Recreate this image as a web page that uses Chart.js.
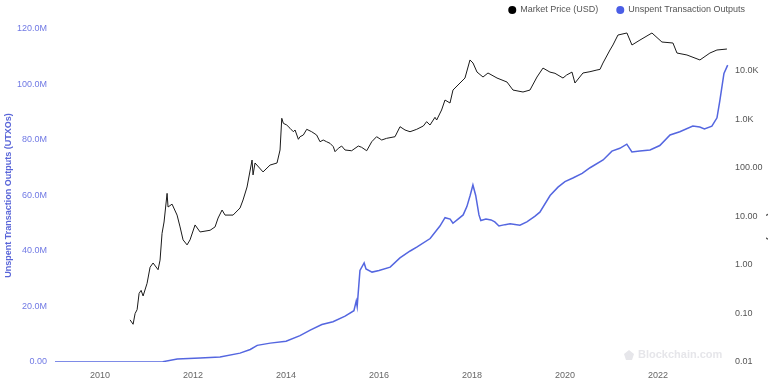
<!DOCTYPE html>
<html>
<head>
<meta charset="utf-8">
<script src="https://cdn.jsdelivr.net/npm/chart.js@4.4.0/dist/chart.umd.min.js"></script>
<style>
  html, body { margin: 0; padding: 0; background: #fff; overflow: hidden; }
  #wrap { width: 768px; height: 383px; }
</style>
</head>
<body>
<div id="wrap"><canvas id="utxoChart" width="768" height="383"></canvas></div>
<script>
// Unspent Transaction Outputs (millions), by decimal year
var utxoYears = [2009.03, 2011.35, 2011.66, 2012.15, 2012.58, 2013.01, 2013.23, 2013.38, 2013.66, 2014.0,
    2014.3, 2014.52, 2014.77, 2015.01, 2015.27, 2015.46, 2015.51, 2015.53, 2015.59, 2015.68,
    2015.72, 2015.85, 2016.0, 2016.24, 2016.45, 2016.67, 2016.82, 2017.1, 2017.31, 2017.42,
    2017.53, 2017.59, 2017.7, 2017.81, 2017.89, 2017.96, 2018.02, 2018.08, 2018.15, 2018.19,
    2018.3, 2018.41, 2018.49, 2018.58, 2018.71, 2018.82, 2019.03, 2019.18, 2019.35, 2019.46,
    2019.68, 2019.85, 2020.0, 2020.17, 2020.37, 2020.54, 2020.82, 2021.01, 2021.18, 2021.33,
    2021.44, 2021.61, 2021.83, 2022.04, 2022.26, 2022.47, 2022.75, 2022.9, 2023.0, 2023.16,
    2023.27, 2023.33, 2023.42, 2023.5];
var utxoValues = [0, 0.1, 1.1, 1.4, 1.8, 3.2, 4.5, 6.0, 6.8, 7.5,
    9.5, 11.5, 13.5, 14.5, 16.5, 18.5, 22, 20, 33, 35.7,
    33.5, 32.4, 33, 34.2, 37.5, 40, 41.5, 44.5, 49, 52,
    51.5, 50, 51.5, 53, 56, 60, 63.8, 60, 53, 51,
    51.5, 51.2, 50.5, 49, 49.5, 49.8, 49.3, 50.5, 52.5, 54,
    60, 63, 65, 66.3, 68, 70, 72.8, 76, 77, 78.5,
    75.7, 76, 76.4, 78, 81.8, 83, 85, 84.7, 84, 85,
    88, 94, 104, 107];

// Market Price (USD), by decimal year
var priceYears = [2010.645, 2010.71, 2010.753, 2010.796, 2010.839, 2010.882, 2010.925, 2011.011, 2011.075, 2011.14,
    2011.247, 2011.29, 2011.333, 2011.376, 2011.441, 2011.462, 2011.548, 2011.656, 2011.72, 2011.785,
    2011.871, 2011.935, 2012.043, 2012.151, 2012.366, 2012.473, 2012.538, 2012.624, 2012.688, 2012.86,
    2013.011, 2013.075, 2013.161, 2013.269, 2013.29, 2013.333, 2013.505, 2013.656, 2013.806, 2013.871,
    2013.908, 2013.942, 2014.015, 2014.086, 2014.157, 2014.194, 2014.265, 2014.301, 2014.372, 2014.445,
    2014.551, 2014.658, 2014.731, 2014.8, 2014.873, 2014.946, 2015.017, 2015.054, 2015.125, 2015.196,
    2015.269, 2015.411, 2015.555, 2015.626, 2015.735, 2015.843, 2015.948, 2016.058, 2016.163, 2016.344,
    2016.452, 2016.559, 2016.667, 2016.811, 2016.953, 2017.024, 2017.097, 2017.204, 2017.24, 2017.346,
    2017.419, 2017.527, 2017.591, 2017.742, 2017.849, 2017.957, 2018.022, 2018.108, 2018.237, 2018.344,
    2018.538, 2018.753, 2018.882, 2019.097, 2019.247, 2019.398, 2019.527, 2019.677, 2019.785, 2019.957,
    2020.036, 2020.151, 2020.215, 2020.387, 2020.538, 2020.688, 2020.753, 2020.817, 2020.968, 2021.032,
    2021.14, 2021.333, 2021.441, 2021.613, 2021.871, 2022.086, 2022.323, 2022.409, 2022.624, 2022.903,
    2023.118, 2023.269, 2023.484];
var priceValues = [0.074, 0.06, 0.1, 0.12, 0.26, 0.3, 0.23, 0.42, 0.9, 1.1,
    0.8, 1.26, 4.5, 7.7, 30, 15.7, 18, 10.7, 6.1, 3.3,
    2.6, 3.3, 6.7, 4.8, 5.2, 6.1, 9.3, 13.6, 10.7, 10.7,
    15, 21.9, 40.6, 146, 72, 127, 83, 115, 127, 235,
    1060, 835, 770, 659, 560, 608, 391, 442, 479, 628,
    560, 479, 348, 378, 348, 323, 275, 217, 255, 284,
    235, 227, 284, 267, 227, 348, 442, 378, 409, 442,
    711, 608, 560, 628, 735, 902, 770, 1110, 977, 1570,
    2520, 2190, 4050, 5660, 7170, 16900, 14600, 9520, 7520, 9100,
    7170, 5930, 4050, 3690, 4050, 7520, 11500, 9500, 8970, 7170,
    8270, 9500, 5660, 9100, 9680, 10500, 10800, 14600, 27100, 34400,
    55200, 60800, 34400, 43500, 60800, 39600, 37800, 23500, 21400, 16900,
    23500, 27100, 28400];

var yearTicks = [2010, 2012, 2014, 2016, 2018, 2020, 2022];
var utxoTicks = [0, 20, 40, 60, 80, 100, 120];
var priceTicks = [0.01, 0.1, 1, 10, 100, 1000, 10000];

var FONT = '"Liberation Sans", Arial, sans-serif';

function toPoints(xs, ys) {
    var pts = [];
    for (var i = 0; i < xs.length; i++) pts.push({ x: xs[i], y: ys[i] });
    return pts;
}

function priceLabel(v) {
    if (v >= 1000) return (v / 1000).toFixed(1) + 'K';
    return v.toFixed(2);
}

// leyenda arriba a la derecha + marca de agua
var extras = {
    id: 'extras',
    beforeDatasetsDraw: function (chart) {
        var ctx = chart.ctx;
        ctx.save();
        // marca de agua
        ctx.fillStyle = '#e6e6ea';
        var cx = 629, cy = 355;
        ctx.beginPath();
        ctx.moveTo(cx, cy - 5);
        ctx.lineTo(cx + 5, cy - 1);
        ctx.lineTo(cx + 3, cy + 5);
        ctx.lineTo(cx - 3, cy + 5);
        ctx.lineTo(cx - 5, cy - 1);
        ctx.closePath();
        ctx.fill();
        ctx.font = 'bold 11px ' + FONT;
        ctx.textBaseline = 'middle';
        ctx.fillText('Blockchain.com', 638, cy);
        ctx.restore();
    },
    afterDraw: function (chart) {
        var ctx = chart.ctx;
        ctx.save();
        ctx.font = '9px ' + FONT;
        ctx.textBaseline = 'middle';
        var x = 745, y = 10;
        var items = chart.data.datasets.slice().reverse();
        items.forEach(function (ds) {
            var w = ctx.measureText(ds.label).width;
            x -= w;
            ctx.fillStyle = '#555';
            ctx.fillText(ds.label, x, y);
            ctx.beginPath();
            ctx.arc(x - 8, y, 4, 0, Math.PI * 2);
            ctx.fillStyle = ds.backgroundColor;
            ctx.fill();
            x -= 8 + 4 + 18;
        });
        ctx.restore();
    }
};

var ctx = document.getElementById('utxoChart').getContext('2d');
var utxoChart = new Chart(ctx, {
    type: 'line',
    data: {
        datasets: [
            {
                label: 'Market Price (USD)',
                data: toPoints(priceYears, priceValues),
                yAxisID: 'yPrice',
                borderColor: '#1a1a1a',
                backgroundColor: '#000000',
                borderWidth: 1,
                pointRadius: 0,
                tension: 0
            },
            {
                label: 'Unspent Transaction Outputs',
                data: toPoints(utxoYears, utxoValues),
                yAxisID: 'yUtxo',
                borderColor: '#5466e0',
                backgroundColor: '#4a5ee6',
                borderWidth: 1.5,
                pointRadius: 0,
                tension: 0
            }
        ]
    },
    plugins: [extras],
    options: {
        responsive: false,
        animation: false,
        layout: { padding: { top: 29, right: 0, bottom: 0, left: 0 } },
        plugins: {
            legend: { display: false },
            tooltip: { enabled: false }
        },
        scales: {
            x: {
                type: 'linear',
                min: 2009.03,
                max: 2023.55,
                grid: { display: false, drawTicks: false },
                border: { display: false },
                afterBuildTicks: function (scale) {
                    scale.ticks = yearTicks.map(function (v) { return { value: v }; });
                },
                ticks: {
                    color: '#666',
                    padding: 8,
                    maxRotation: 0,
                    autoSkip: false,
                    font: { family: FONT, size: 9 },
                    callback: function (v) { return String(v); }
                },
                afterFit: function (scale) { scale.height = 21; }
            },
            yUtxo: {
                type: 'linear',
                position: 'left',
                min: 0,
                max: 120,
                grid: { display: false, drawTicks: false },
                border: { display: false },
                afterBuildTicks: function (scale) {
                    scale.ticks = utxoTicks.map(function (v) { return { value: v }; });
                },
                ticks: {
                    color: '#7079e4',
                    padding: 8,
                    font: { family: FONT, size: 9 },
                    callback: function (v) { return v === 0 ? '0.00' : v.toFixed(1) + 'M'; }
                },
                title: {
                    display: true,
                    text: 'Unspent Transaction Outputs (UTXOs)',
                    color: '#5a66d8',
                    padding: { top: 3, bottom: 0 },
                    font: { family: FONT, size: 9, weight: 'bold' }
                },
                afterFit: function (scale) { scale.width = 55; }
            },
            yPrice: {
                type: 'logarithmic',
                position: 'right',
                min: 0.01,
                max: 73500,
                grid: { display: false, drawTicks: false },
                border: { display: false },
                afterBuildTicks: function (scale) {
                    scale.ticks = priceTicks.map(function (v) { return { value: v }; });
                },
                ticks: {
                    color: '#555',
                    padding: 5,
                    autoSkip: false,
                    font: { family: FONT, size: 9 },
                    callback: function (v) { return priceLabel(v); }
                },
                title: {
                    display: true,
                    text: 'Market Price (USD)',
                    color: '#555',
                    padding: { top: -9, bottom: 0 },
                    font: { family: FONT, size: 10, weight: 'bold' }
                },
                afterFit: function (scale) { scale.width = 38; }
            }
        }
    }
});
</script>
</body>
</html>
